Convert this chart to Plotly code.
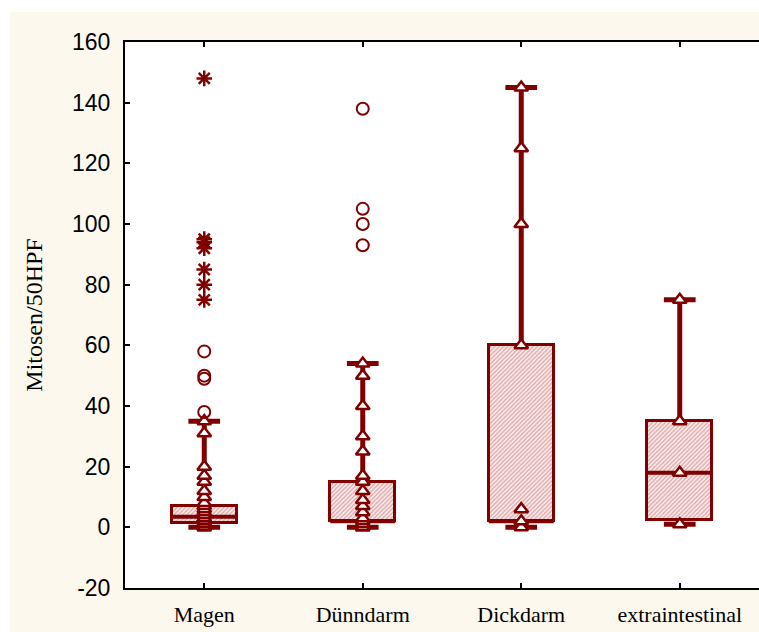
import plotly.graph_objects as go

# Mitoses per 50 HPF by tumour location
categories = ["Magen", "Dünndarm", "Dickdarm", "extraintestinal"]
y_ticks = [-20, 0, 20, 40, 60, 80, 100, 120, 140, 160]
y_tick_labels = ["-20", "0", "20", "40", "60", "80", "100", "120", "140", "160"]

# box statistics (quartiles, median, non-outlier range)
q1 = [1.5, 2, 2, 2.5]
median = [3.5, 2, 2, 18]
q3 = [7, 15, 60, 35]
whisker_low = [0, 0, 0, 1]
whisker_high = [35, 54, 145, 75]

# raw observations per group
magen_points = [0, 0, 1, 1, 2, 2, 3, 3, 4, 5, 6, 7, 8, 10, 12, 15, 17, 20, 31, 35]
duenndarm_points = [0, 0, 1, 2, 3, 5, 7, 9, 12, 15, 17, 25, 30, 40, 50, 54]
dickdarm_points = [0, 2, 6, 60, 100, 125, 145]
extra_points = [1, 18, 35, 75]
group_points = [magen_points, duenndarm_points, dickdarm_points, extra_points]

# outliers (circles) and extremes (asterisks)
outliers = {"Magen": [38, 49, 50, 58], "Dünndarm": [93, 100, 105, 138]}
extremes = {"Magen": [75, 80, 85, 92, 94, 95, 148]}

DARK = "#800000"
CREAM = "#fdf8ed"
pos = list(range(len(categories)))
box_w = 0.41
cap_half = 0.1

fig = go.Figure()

# hatched boxes
fig.add_trace(go.Bar(
    x=pos, base=q1, y=[b - a for a, b in zip(q1, q3)], width=box_w,
    marker=dict(color="white", line=dict(color=DARK, width=3),
                pattern=dict(shape="/", size=3, solidity=0.5,
                             fgcolor="#c46a6a", bgcolor="#fbf0f0")),
    hoverinfo="skip", showlegend=False))

# whiskers
wx, wy = [], []
for p, lo, a, b, hi in zip(pos, whisker_low, q1, q3, whisker_high):
    wx += [p, p, None, p, p, None]
    wy += [b, hi, None, lo, a, None]
fig.add_trace(go.Scatter(x=wx, y=wy, mode="lines", line=dict(color=DARK, width=5),
                         hoverinfo="skip", showlegend=False))

# whisker caps
cx, cy = [], []
for p, lo, hi in zip(pos, whisker_low, whisker_high):
    cx += [p - cap_half, p + cap_half, None, p - cap_half, p + cap_half, None]
    cy += [hi, hi, None, lo, lo, None]
fig.add_trace(go.Scatter(x=cx, y=cy, mode="lines", line=dict(color=DARK, width=5),
                         hoverinfo="skip", showlegend=False))

# medians
mx, my = [], []
for p, m in zip(pos, median):
    mx += [p - box_w / 2, p + box_w / 2, None]
    my += [m, m, None]
fig.add_trace(go.Scatter(x=mx, y=my, mode="lines", line=dict(color=DARK, width=4),
                         hoverinfo="skip", showlegend=False))

# raw data points
px, py = [], []
for p, vals in zip(pos, group_points):
    px += [p] * len(vals)
    py += vals
fig.add_trace(go.Scatter(x=px, y=py, mode="markers",
                         marker=dict(symbol="triangle-up", size=12, color="white",
                                     line=dict(color=DARK, width=2.5)),
                         hoverinfo="skip", showlegend=False))

# outliers
ox, oy = [], []
for name, vals in outliers.items():
    ox += [categories.index(name)] * len(vals)
    oy += vals
fig.add_trace(go.Scatter(x=ox, y=oy, mode="markers",
                         marker=dict(symbol="circle-open", size=12, color=DARK,
                                     line=dict(color=DARK, width=2)),
                         hoverinfo="skip", showlegend=False))

# extremes
ex, ey = [], []
for name, vals in extremes.items():
    ex += [categories.index(name)] * len(vals)
    ey += vals
fig.add_trace(go.Scatter(x=ex, y=ey, mode="markers",
                         marker=dict(symbol="asterisk-open", size=13, color=DARK,
                                     line=dict(color=DARK, width=2.5)),
                         hoverinfo="skip", showlegend=False))

# white frame strips around the cream page
L, R, T, B = 125, 0, 42, 44
W, H = 759, 632
pw, ph = W - L - R, H - T - B
fig.add_shape(type="rect", xref="paper", yref="paper", layer="below",
              x0=-L / pw, x1=(W - L) / pw, y0=(ph + T - 12) / ph, y1=(ph + T) / ph,
              fillcolor="white", line_width=0)
fig.add_shape(type="rect", xref="paper", yref="paper", layer="below",
              x0=-L / pw, x1=(10 - L) / pw, y0=-B / ph, y1=(ph + T) / ph,
              fillcolor="white", line_width=0)

fig.update_layout(
    width=W, height=H,
    margin=dict(l=L, r=R, t=T, b=B),
    paper_bgcolor=CREAM, plot_bgcolor="white",
    bargap=0, barmode="overlay",
    showlegend=False,
    xaxis=dict(range=[-0.5, 3.5], tickvals=pos, ticktext=categories,
               ticks="inside", ticklen=5, tickwidth=2, tickcolor="black",
               showline=True, linewidth=2, linecolor="black", mirror="ticks",
               showgrid=False, zeroline=False, fixedrange=True,
               tickfont=dict(family="Liberation Serif, Times New Roman, serif", size=22, color="black"),
               ticklabelstandoff=6),
    yaxis=dict(range=[-20, 160], tickvals=y_ticks, ticktext=y_tick_labels,
               ticks="inside", ticklen=5, tickwidth=2, tickcolor="black",
               showline=True, linewidth=2, linecolor="black",
               showgrid=False, zeroline=False, fixedrange=True,
               tickfont=dict(family="Liberation Sans, Arial, sans-serif", size=23, color="black"),
               ticklabelstandoff=8,
               title=dict(text="Mitosen/50HPF", standoff=23,
                          font=dict(family="Liberation Serif, Times New Roman, serif", size=24, color="black"))),
)

fig.write_html("out.html")
